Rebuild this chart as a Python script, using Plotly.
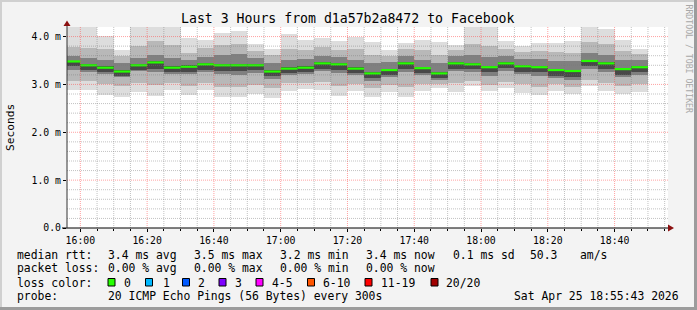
import plotly.graph_objects as go
from datetime import datetime, timedelta

# ---------------- data ----------------
bar_end = ["16:00", "16:05", "16:10", "16:15", "16:20", "16:25", "16:30", "16:35",
           "16:40", "16:45", "16:50", "16:55", "17:00", "17:05", "17:10", "17:15",
           "17:20", "17:25", "17:30", "17:35", "17:40", "17:45", "17:50", "17:55",
           "18:00", "18:05", "18:10", "18:15", "18:20", "18:25", "18:30", "18:35",
           "18:40", "18:45", "18:50"]
median_ms = [3.48, 3.40, 3.35, 3.27, 3.40, 3.46, 3.35, 3.37, 3.42, 3.40, 3.40, 3.40,
             3.27, 3.33, 3.35, 3.44, 3.42, 3.33, 3.23, 3.30, 3.44, 3.34, 3.23, 3.44,
             3.42, 3.36, 3.44, 3.38, 3.36, 3.30, 3.28, 3.49, 3.44, 3.32, 3.36]
max_ms = [4.20, 4.20, 4.02, 3.72, 4.19, 4.20, 4.20, 3.96, 3.93, 4.08, 4.11, 3.85,
          3.74, 4.05, 3.93, 3.98, 3.91, 3.99, 3.89, 3.72, 3.87, 3.92, 3.88, 3.83,
          4.20, 4.20, 3.90, 3.80, 3.87, 3.87, 3.90, 4.20, 4.15, 3.93, 3.73]
p90_ms = [3.79, 3.77, 3.73, 3.60, 3.80, 3.90, 3.83, 3.66, 3.77, 3.83, 3.85, 3.70,
          3.62, 3.75, 3.72, 3.78, 3.72, 3.75, 3.62, 3.60, 3.75, 3.72, 3.62, 3.72,
          3.85, 3.80, 3.74, 3.68, 3.70, 3.68, 3.66, 3.88, 3.84, 3.70, 3.63]
p75_ms = [3.59, 3.56, 3.52, 3.45, 3.56, 3.62, 3.55, 3.52, 3.58, 3.62, 3.63, 3.55,
          3.45, 3.52, 3.53, 3.60, 3.57, 3.52, 3.45, 3.47, 3.60, 3.52, 3.44, 3.59,
          3.62, 3.57, 3.59, 3.54, 3.53, 3.50, 3.48, 3.66, 3.62, 3.52, 3.52]
p60_ms = [3.50, 3.43, 3.38, 3.30, 3.43, 3.49, 3.38, 3.40, 3.45, 3.43, 3.43, 3.43,
          3.30, 3.36, 3.38, 3.47, 3.45, 3.36, 3.26, 3.33, 3.47, 3.37, 3.26, 3.47,
          3.45, 3.39, 3.47, 3.41, 3.39, 3.33, 3.31, 3.52, 3.47, 3.35, 3.39]
p40_ms = [3.38, 3.30, 3.25, 3.18, 3.31, 3.32, 3.25, 3.26, 3.30, 3.28, 3.28, 3.30,
          3.17, 3.24, 3.26, 3.33, 3.30, 3.24, 3.13, 3.20, 3.32, 3.24, 3.14, 3.33,
          3.32, 3.25, 3.34, 3.27, 3.25, 3.18, 3.15, 3.38, 3.33, 3.20, 3.25]
p25_ms = [3.31, 3.26, 3.22, 3.15, 3.28, 3.25, 3.22, 3.22, 3.25, 3.22, 3.20, 3.24,
          3.12, 3.20, 3.22, 3.28, 3.24, 3.20, 3.08, 3.16, 3.25, 3.20, 3.10, 3.28,
          3.27, 3.18, 3.28, 3.22, 3.18, 3.14, 3.10, 3.32, 3.27, 3.15, 3.20]
p10_ms = [3.07, 3.07, 3.00, 2.96, 3.04, 2.98, 3.02, 2.97, 3.02, 2.95, 2.94, 2.98,
          2.92, 3.02, 3.04, 3.05, 2.97, 3.01, 2.92, 2.98, 2.95, 3.01, 3.00, 3.02,
          3.08, 2.98, 3.06, 3.00, 2.95, 3.00, 2.94, 3.10, 3.02, 2.97, 3.00]
min_ms = [2.89, 2.89, 2.77, 2.73, 2.84, 2.75, 2.89, 2.77, 2.88, 2.73, 2.73, 2.79,
          2.72, 2.86, 2.91, 2.89, 2.75, 2.87, 2.74, 2.84, 2.74, 2.86, 2.92, 2.84,
          2.96, 2.86, 2.93, 2.82, 2.77, 2.86, 2.79, 2.96, 2.86, 2.81, 2.84]

y_tick_vals = [0, 1, 2, 3, 4]
y_tick_text = ["0.0", "1.0 m", "2.0 m", "3.0 m", "4.0 m"]

title_text = "Last 3 Hours from d1a57b2a8472 to Facebook"
y_title = "Seconds"
legend_rows = [
    [("median rtt:", 16), ("3.4 ms avg", 107), ("3.5 ms max", 193), ("3.2 ms min", 279),
     ("3.4 ms now", 365), ("0.1 ms sd", 451.5), ("50.3", 528.5), ("am/s", 579)],
    [("packet loss:", 16), ("0.00 % avg", 107), ("0.00 % max", 193), ("0.00 % min", 279),
     ("0.00 % now", 365)],
    [("loss color:", 16)],
    [("probe:", 16), ("20 ICMP Echo Pings (56 Bytes) every 300s", 107),
     ("Sat Apr 25 18:55:43 2026", 513)],
]
loss_labels = ["0", "1", "2", "3", "4-5", "6-10", "11-19", "20/20"]
loss_colors = ["#26ff00", "#00b8ff", "#0059ff", "#7e00ff", "#ff00ff", "#ff5500", "#ff0000", "#a00000"]
loss_box_x = [108, 145.5, 182.5, 219, 256, 307.5, 365, 431]
loss_text_x = [123, 161.5, 196.5, 234, 270.5, 321.5, 380, 445]

# ---------------- geometry ----------------
W, H = 697, 310
L, R, T, B = 67, 29, 27, 82
PW, PH = W - L - R, H - T - B


def px(x):
    return (x - L) / PW


def py(y):
    return (H - B - y) / PH


day = datetime(2026, 4, 25)


def tparse(s):
    h, m = s.split(":")
    return day + timedelta(hours=int(h), minutes=int(m))


ends = [tparse(s) for s in bar_end]
step = timedelta(minutes=5)
centers = [e - step / 2 for e in ends]
starts = [e - step for e in ends]

fig = go.Figure()

layers = [
    (min_ms, max_ms, "#dddddd"),
    (p10_ms, p90_ms, "#b8b8b8"),
    (p25_ms, p75_ms, "#808080"),
    (p40_ms, p60_ms, "#484848"),
]
for lo, hi, col in layers:
    fig.add_trace(go.Bar(
        x=centers, y=[h - l for h, l in zip(hi, lo)], base=lo,
        width=[300000] * len(centers), marker=dict(color=col, line=dict(width=0)),
        showlegend=False, hoverinfo="skip"))

mx, my = [], []
for s, e, m in zip(starts, ends, median_ms):
    mx += [s, e, None]
    my += [m, m, None]
fig.add_trace(go.Scatter(x=mx, y=my, mode="lines", line=dict(color="#26ff00", width=2.2),
                         showlegend=False, hoverinfo="skip"))

x0 = tparse("15:56")
x1 = tparse("18:56")

shapes = []
# grid (drawn above the smoke, like rrdtool)
minor_col = "rgba(120,120,120,0.45)"
major_col = "rgba(255,70,70,0.5)"
t = tparse("16:00")
while t < x1:
    major = (t.minute % 20 == 0)
    shapes.append(dict(type="line", xref="x", yref="paper", x0=t, x1=t, y0=0, y1=1,
                       layer="above",
                       line=dict(color=major_col if major else minor_col, width=1, dash="1px,1px")))
    t += step
for i in range(1, 21):
    v = i * 0.2
    major = (i % 5 == 0)
    shapes.append(dict(type="line", xref="paper", yref="y", x0=0, x1=1, y0=v, y1=v,
                       layer="above",
                       line=dict(color=major_col if major else minor_col, width=1, dash="1px,1px")))

# axes lines and arrows
shapes.append(dict(type="line", xref="paper", yref="paper", x0=px(62), x1=px(669),
                   y0=py(228), y1=py(228), layer="above", line=dict(color="#000000", width=1)))
shapes.append(dict(type="line", xref="paper", yref="paper", x0=px(67), x1=px(67),
                   y0=py(228), y1=py(22), layer="above", line=dict(color="#333333", width=1)))
shapes.append(dict(type="path", xref="paper", yref="paper", layer="above",
                   path=f"M {px(63.5)},{py(26)} L {px(70.5)},{py(26)} L {px(67)},{py(20.5)} Z",
                   fillcolor="#8b1010", line=dict(width=0)))
shapes.append(dict(type="path", xref="paper", yref="paper", layer="above",
                   path=f"M {px(668)},{py(224.5)} L {px(668)},{py(231.5)} L {px(674)},{py(228)} Z",
                   fillcolor="#8b1010", line=dict(width=0)))

# frame
shapes.append(dict(type="rect", xref="paper", yref="paper", x0=px(0), x1=px(697), y0=py(0), y1=py(2),
                   line=dict(width=0), fillcolor="#d0d0d0", layer="above"))
shapes.append(dict(type="rect", xref="paper", yref="paper", x0=px(0), x1=px(2), y0=py(0), y1=py(310),
                   line=dict(width=0), fillcolor="#d0d0d0", layer="above"))
shapes.append(dict(type="rect", xref="paper", yref="paper", x0=px(0), x1=px(697), y0=py(307), y1=py(310),
                   line=dict(width=0), fillcolor="#9c9c9c", layer="above"))
shapes.append(dict(type="rect", xref="paper", yref="paper", x0=px(694), x1=px(697), y0=py(0), y1=py(310),
                   line=dict(width=0), fillcolor="#9c9c9c", layer="above"))

# loss colour boxes
for bx, col in zip(loss_box_x, loss_colors):
    shapes.append(dict(type="rect", xref="paper", yref="paper", x0=px(bx), x1=px(bx + 7),
                       y0=py(278.5), y1=py(286), fillcolor=col,
                       line=dict(color="#000000", width=1)))

MONO = "DejaVu Sans Mono"
ann = []
ann.append(dict(text=title_text, x=px(348), y=py(19), xref="paper", yref="paper",
                showarrow=False, xanchor="center", yanchor="middle",
                font=dict(family=MONO, size=13.2, color="#000000")))
ann.append(dict(text=y_title, x=px(10), y=py(128), xref="paper", yref="paper",
                showarrow=False, textangle=-90, xanchor="center", yanchor="middle",
                font=dict(family=MONO, size=11.2, color="#000000")))
ann.append(dict(text="RRDTOOL / TOBI OETIKER", x=px(688.5), y=py(59), xref="paper", yref="paper",
                showarrow=False, textangle=90, xanchor="center", yanchor="middle",
                font=dict(family=MONO, size=8.2, color="#a8a8a8")))
row_y = [255, 268.3, 282.5, 295.5]
for row, yy in zip(legend_rows, row_y):
    for txt, xx in row:
        ann.append(dict(text=txt.replace(" ", "\u00a0"), x=px(xx), y=py(yy), xref="paper", yref="paper",
                        showarrow=False, xanchor="left", yanchor="middle", borderpad=0,
                        font=dict(family=MONO, size=11.4, color="#000000")))
for lab, xx in zip(loss_labels, loss_text_x):
    ann.append(dict(text=lab, x=px(xx), y=py(282.5), xref="paper", yref="paper",
                    showarrow=False, xanchor="left", yanchor="middle", borderpad=0,
                    font=dict(family=MONO, size=11.4, color="#000000")))

fig.update_layout(
    width=W, height=H,
    margin=dict(l=L, r=R, t=T, b=B, pad=0),
    paper_bgcolor="#f3f3f3", plot_bgcolor="#ffffff",
    barmode="overlay", bargap=0,
    shapes=shapes, annotations=ann, showlegend=False,
    xaxis=dict(type="date", range=[x0, x1], showgrid=False, zeroline=False, showline=False,
               tick0=tparse("16:00"), dtick=20 * 60 * 1000, tickformat="%H:%M",
               ticks="outside", ticklen=3, tickcolor="#000000",
               minor=dict(dtick=5 * 60 * 1000, ticks="outside", ticklen=2, tickcolor="#000000", showgrid=False),
               tickfont=dict(family=MONO, size=9.8, color="#000000"), fixedrange=True),
    yaxis=dict(range=[0, 4.2], showgrid=False, zeroline=False, showline=False,
               tickvals=y_tick_vals, ticktext=y_tick_text,
               ticks="outside", ticklen=3, tickcolor="#000000",
               tickfont=dict(family=MONO, size=9.8, color="#000000"), fixedrange=True),
)

fig.write_html("out.html")
